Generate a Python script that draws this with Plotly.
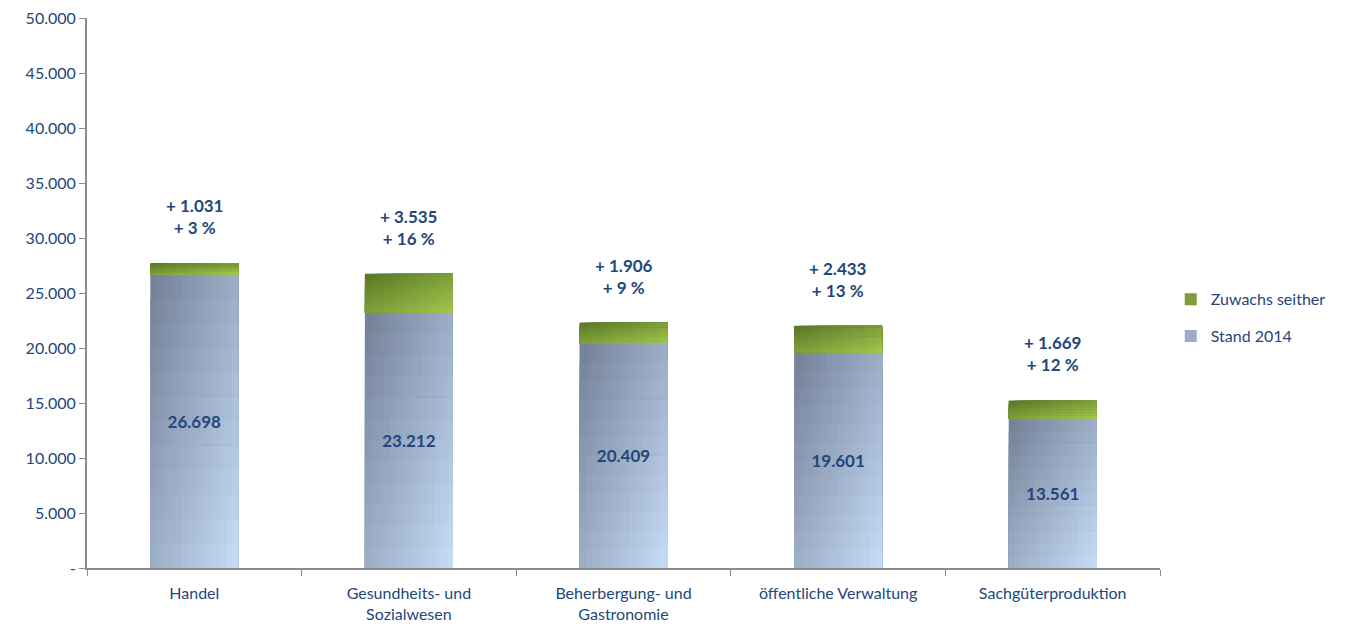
import plotly.graph_objects as go

categories = ["Handel", "Gesundheits- und<br>Sozialwesen", "Beherbergung- und<br>Gastronomie",
              "öffentliche Verwaltung", "Sachgüterproduktion"]
stand_2014 = [26698, 23212, 20409, 19601, 13561]
zuwachs = [1031, 3535, 1906, 2433, 1669]
zuwachs_pct = ["+ 3 %", "+ 16 %", "+ 9 %", "+ 13 %", "+ 12 %"]
y_ticks = [0, 5000, 10000, 15000, 20000, 25000, 30000, 35000, 40000, 45000, 50000]
y_tick_labels = ["-", "5.000", "10.000", "15.000", "20.000", "25.000", "30.000",
                 "35.000", "40.000", "45.000", "50.000"]


def de_num(v):
    return f"{v:,}".replace(",", ".")


TXT = "#23477a"
FONT = "Lato, 'Open Sans', sans-serif"
BAR_W = 0.41
NX, NY = 14, 12  # gradient steps per bar (columns x rows)

# diagonal gradient endpoints: top-left -> bottom-right
STAND_GRAD = ((0x75, 0x83, 0x9a), (0xc4, 0xd9, 0xf3))
ZUW_GRAD = ((0x5c, 0x78, 0x28), (0xa0, 0xc4, 0x4c))


def mix(grad, t):
    a, b = grad
    return "rgb({},{},{})".format(*[round(a[k] + (b[k] - a[k]) * t) for k in range(3)])


def add_gradient_bars(fig, values, bases, grad):
    """Paint each bar as overlapping rectangles anchored at its bottom-right
    corner; later ones cover the earlier ones, leaving a diagonal colour ramp."""
    cw = BAR_W / NX
    for j in range(NY):  # j = 0 is the top row
        frac = (NY - j) / NY
        heights = [v * frac for v in values]
        for i in range(NX):
            t = (i / (NX - 1) + j / (NY - 1)) / 2
            fig.add_trace(go.Bar(
                x=categories, y=heights, base=bases,
                width=BAR_W - i * cw, offset=-BAR_W / 2 + i * cw,
                marker=dict(color=mix(grad, t), line=dict(width=0)),
                showlegend=False, hoverinfo="skip",
            ))


fig = go.Figure()
add_gradient_bars(fig, stand_2014, [0] * len(stand_2014), STAND_GRAD)
add_gradient_bars(fig, zuwachs, stand_2014, ZUW_GRAD)

# value labels inside the Stand 2014 bars
fig.add_trace(go.Bar(
    x=categories, y=stand_2014, width=BAR_W,
    marker=dict(color="rgba(0,0,0,0)", line=dict(width=0)),
    text=[de_num(v) for v in stand_2014], textposition="inside",
    insidetextanchor="middle", textangle=0,
    textfont=dict(family=FONT, size=17, color=TXT, weight="bold"),
    showlegend=False, hoverinfo="skip",
))

# legend entries
fig.add_trace(go.Bar(
    x=[categories[0]], y=[0], name="Zuwachs seither", legendrank=1, legendgroup="b",
    marker=dict(color="#7e9e39", line=dict(width=0)), hoverinfo="skip",
))
fig.add_trace(go.Bar(
    x=[categories[0]], y=[0], name="Stand 2014", legendrank=2, legendgroup="a",
    marker=dict(color="#9badc6", line=dict(width=0)), hoverinfo="skip",
))

for cat, s, z, p in zip(categories, stand_2014, zuwachs, zuwachs_pct):
    fig.add_annotation(
        x=cat, y=s + z, text=f"+ {de_num(z)}<br>{p}", showarrow=False,
        yanchor="bottom", yshift=23,
        font=dict(family=FONT, size=17, color=TXT, weight="bold"),
    )

fig.update_layout(
    width=1355, height=627,
    margin=dict(l=87, r=195, t=18, b=59),
    paper_bgcolor="white", plot_bgcolor="white",
    barmode="overlay",
    font=dict(family=FONT, size=16, color=TXT),
    legend=dict(
        x=1.01, y=0.455, xanchor="left", yanchor="middle",
        traceorder="grouped", tracegroupgap=13,
        font=dict(family=FONT, size=16, color=TXT),
        itemwidth=30,
    ),
    showlegend=True,
)
fig.update_xaxes(
    showline=True, linecolor="#8c8c8c", linewidth=2,
    ticks="outside", tickson="boundaries", ticklen=6, tickcolor="#8c8c8c",
    tickfont=dict(family=FONT, size=16, color=TXT),
    ticklabelstandoff=10, automargin=False,
    showgrid=False,
)
fig.update_yaxes(
    range=[0, 50000], tickvals=y_ticks, ticktext=y_tick_labels,
    showline=True, linecolor="#8c8c8c", linewidth=2,
    ticks="outside", ticklen=6, tickcolor="#8c8c8c",
    tickfont=dict(family=FONT, size=16, color=TXT),
    automargin=False,
    showgrid=False, zeroline=False,
)

fig.write_html("out.html")
